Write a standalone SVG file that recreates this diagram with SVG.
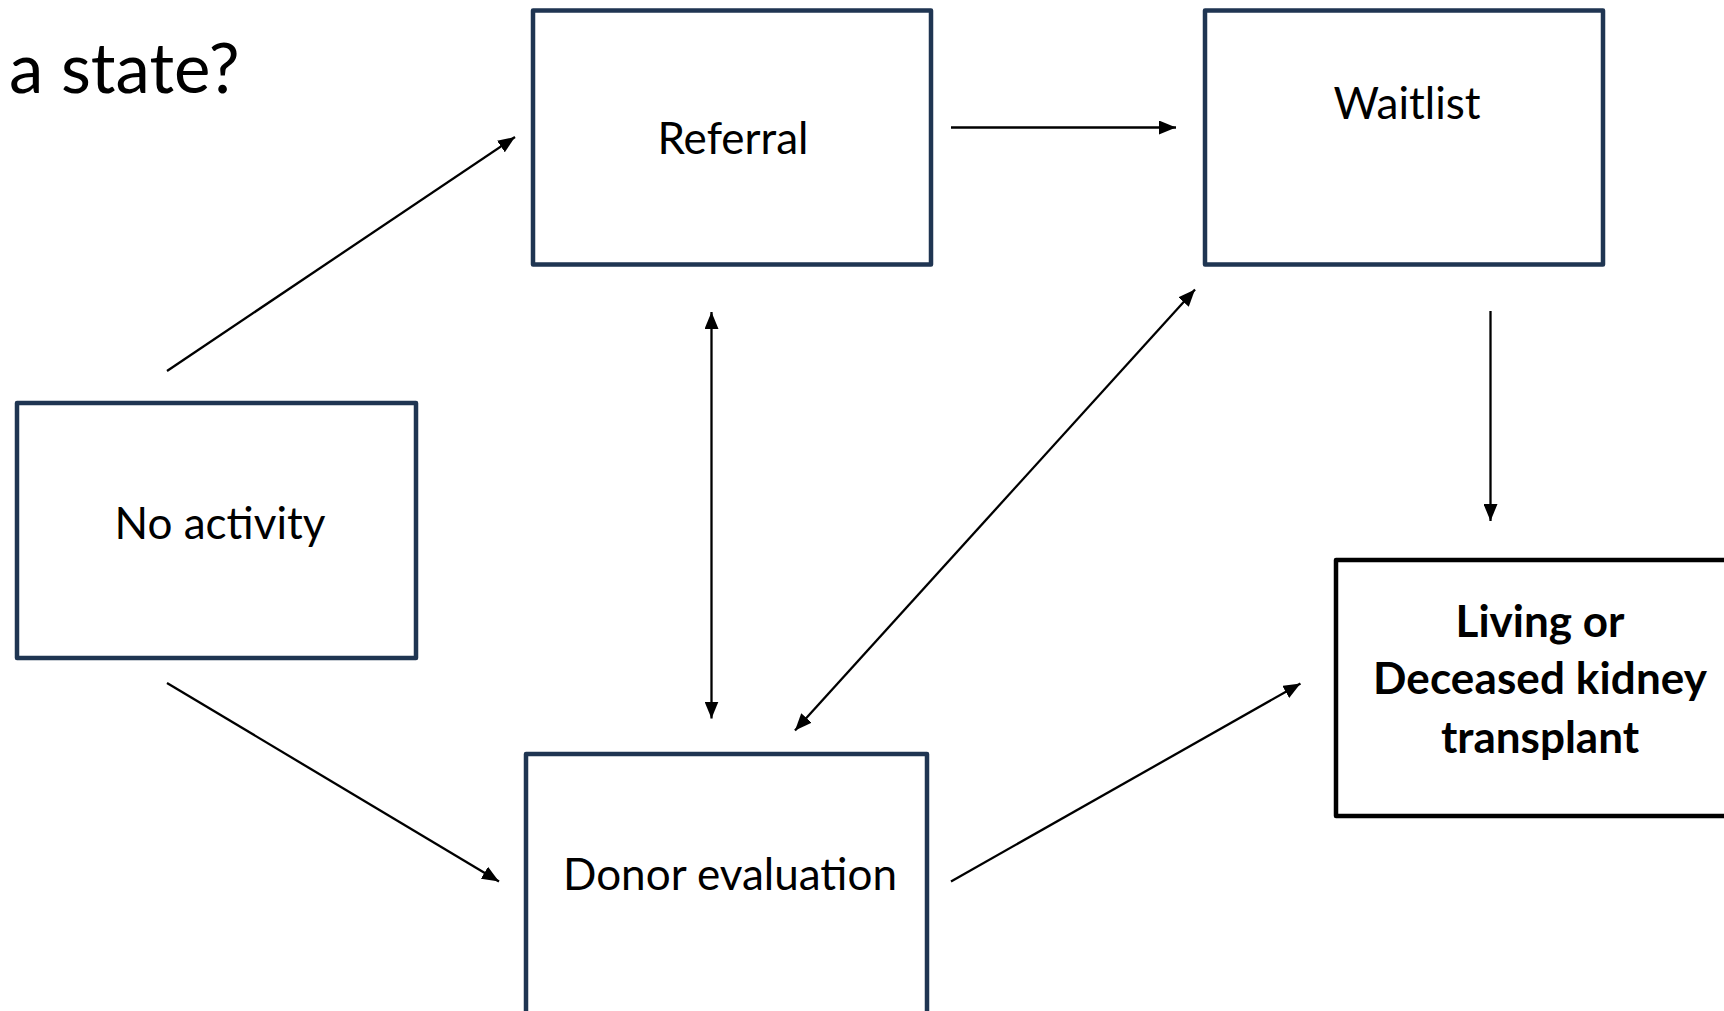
<svg xmlns="http://www.w3.org/2000/svg" width="1724" height="1011" viewBox="0 0 1724 1011">
  <style>
    .box { fill: #ffffff; stroke: #1f3552; stroke-width: 4.5; stroke-linejoin: round; }
    .box-final { fill: #ffffff; stroke: #000000; stroke-width: 4.5; stroke-linejoin: round; }
    .label { font-family: Lato, "Liberation Sans", sans-serif; font-size: 44px; fill: #000000; text-anchor: middle; }
    .label-bold { font-family: Lato, "Liberation Sans", sans-serif; font-size: 44px; font-weight: bold; fill: #000000; text-anchor: middle; }
    .title { font-family: Lato, "Liberation Sans", sans-serif; font-size: 69px; fill: #000000; }
    .edge { stroke: #000000; stroke-width: 2.3; fill: none; }
  </style>
  <defs>
    <marker id="arrow" markerUnits="userSpaceOnUse" markerWidth="17" markerHeight="14" viewBox="0 0 17 14" refX="17" refY="7" orient="auto-start-reverse">
      <path d="M0,0 L17,7 L0,14 Z" fill="#000000"/>
    </marker>
  </defs>

  <rect width="1724" height="1011" fill="#ffffff"/>

  <text class="title" x="9" y="93">a state?</text>

  <g id="node-referral">
    <rect class="box" x="533" y="10.5" width="398" height="254"/>
    <text class="label" x="733" y="154">Referral</text>
  </g>

  <g id="node-waitlist">
    <rect class="box" x="1205" y="10.5" width="398" height="254"/>
    <text class="label" x="1407" y="119">Waitlist</text>
  </g>

  <g id="node-no-activity">
    <rect class="box" x="17" y="403" width="399" height="255"/>
    <text class="label" x="220" y="539">No activity</text>
  </g>

  <g id="node-donor-evaluation">
    <rect class="box" x="526" y="754" width="401" height="300"/>
    <text class="label" x="730" y="890" textLength="334">Donor evaluation</text>
  </g>

  <g id="node-transplant">
    <rect class="box-final" x="1336" y="560" width="398" height="256"/>
    <text class="label-bold" x="1540" y="637">Living or</text>
    <text class="label-bold" x="1540" y="694" textLength="334">Deceased kidney</text>
    <text class="label-bold" x="1540" y="753">transplant</text>
  </g>

  <g id="connectors">
    <line class="edge" x1="167" y1="371" x2="515" y2="137" marker-end="url(#arrow)"/>
    <line class="edge" x1="951" y1="127.5" x2="1176" y2="127.5" marker-end="url(#arrow)"/>
    <line class="edge" x1="711.5" y1="312" x2="711.5" y2="718.5" marker-start="url(#arrow)" marker-end="url(#arrow)"/>
    <line class="edge" x1="1195" y1="289.5" x2="795" y2="730.5" marker-start="url(#arrow)" marker-end="url(#arrow)"/>
    <line class="edge" x1="1490.5" y1="311" x2="1490.5" y2="521" marker-end="url(#arrow)"/>
    <line class="edge" x1="167" y1="683" x2="499" y2="881.5" marker-end="url(#arrow)"/>
    <line class="edge" x1="951" y1="881.5" x2="1300.5" y2="683.5" marker-end="url(#arrow)"/>
  </g>
</svg>
